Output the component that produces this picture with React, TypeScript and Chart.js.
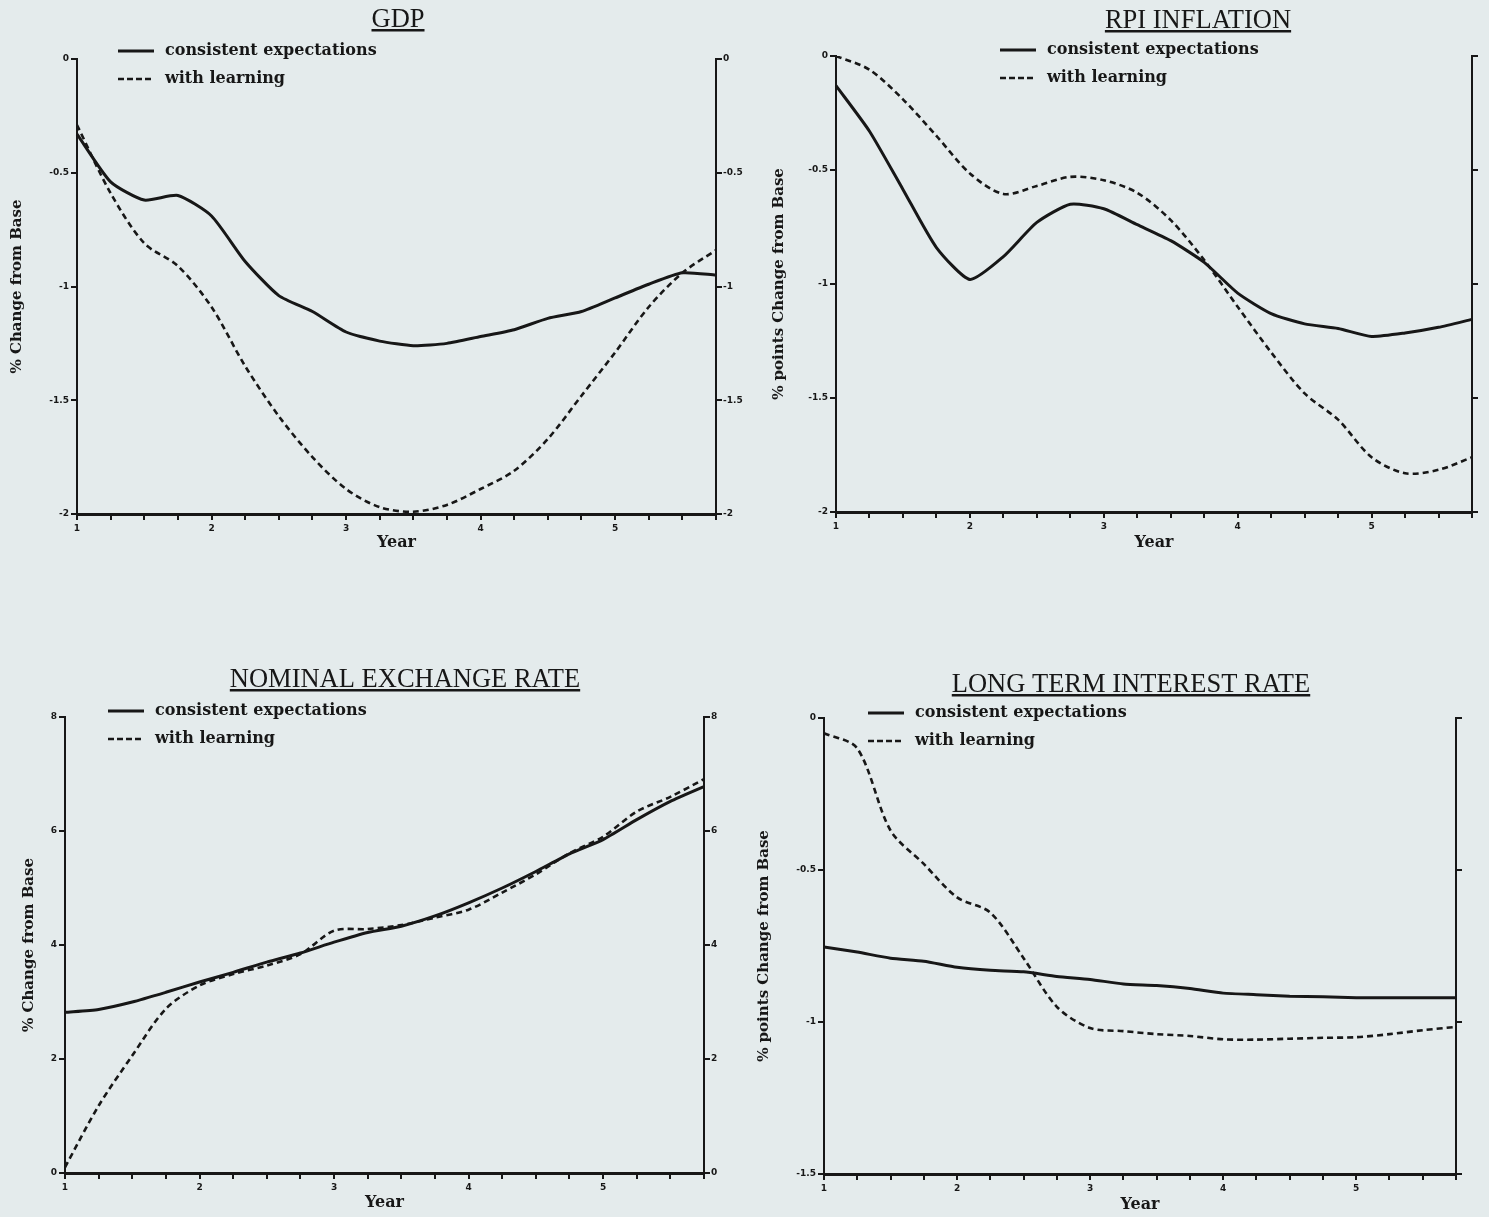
import React, { useEffect, useRef } from 'react';
import { Chart, registerables } from 'chart.js';

Chart.register(...registerables);

// ---------- data ----------
const QUARTERS = ['1', '1.25', '1.5', '1.75', '2', '2.25', '2.5', '2.75', '3', '3.25', '3.5', '3.75', '4', '4.25', '4.5', '4.75', '5', '5.25', '5.5', '5.75'];
const SERIES_LABELS = ['consistent expectations', 'with learning'];

const GDP_CONSISTENT = [-0.33, -0.54, -0.62, -0.6, -0.69, -0.89, -1.04, -1.11, -1.2, -1.24, -1.26, -1.25, -1.22, -1.19, -1.14, -1.11, -1.05, -0.99, -0.94, -0.95];
const GDP_LEARNING = [-0.29, -0.59, -0.81, -0.91, -1.09, -1.35, -1.57, -1.75, -1.89, -1.97, -1.99, -1.96, -1.89, -1.81, -1.67, -1.48, -1.29, -1.09, -0.94, -0.84];

const RPI_CONSISTENT = [-0.13, -0.33, -0.585, -0.84, -0.98, -0.88, -0.73, -0.65, -0.67, -0.74, -0.81, -0.905, -1.04, -1.13, -1.175, -1.195, -1.23, -1.215, -1.19, -1.155];
const RPI_LEARNING = [0.0, -0.06, -0.19, -0.35, -0.515, -0.605, -0.57, -0.53, -0.545, -0.6, -0.72, -0.895, -1.1, -1.3, -1.48, -1.595, -1.76, -1.83, -1.815, -1.76];

const EXR_CONSISTENT = [2.82, 2.87, 3.0, 3.17, 3.35, 3.52, 3.7, 3.86, 4.05, 4.22, 4.33, 4.51, 4.74, 5.0, 5.29, 5.6, 5.85, 6.2, 6.52, 6.78];
const EXR_LEARNING = [0.1, 1.18, 2.06, 2.88, 3.29, 3.49, 3.64, 3.84, 4.25, 4.28, 4.35, 4.48, 4.62, 4.92, 5.24, 5.61, 5.9, 6.34, 6.6, 6.91];

const LTR_CONSISTENT = [-0.753, -0.77, -0.79, -0.8, -0.82, -0.83, -0.835, -0.85, -0.86, -0.875, -0.88, -0.89, -0.905, -0.91, -0.915, -0.917, -0.92, -0.92, -0.92, -0.92];
const LTR_LEARNING = [-0.05, -0.1, -0.37, -0.48, -0.59, -0.64, -0.79, -0.95, -1.02, -1.03, -1.04, -1.046, -1.057, -1.058, -1.055, -1.052, -1.05, -1.04, -1.027, -1.016];

// ---------- style ----------
const INK = '#171717';
const BG = '#e4ebec';
const LABEL_FAMILY = "'DejaVu Serif', serif";
const TICK_FAMILY = "'DejaVu Sans', sans-serif";
const TITLE_FAMILY = "'Liberation Serif', 'Times New Roman', serif";

type Rect = { x: number; y: number; w: number; h: number };
type Panel = {
  id: string;
  title: string;
  yTitle: string;
  yMin: number;
  yMax: number;
  yStep: number;
  rightLabels: boolean;
  consistent: number[];
  learning: number[];
  canvas: Rect;
  area: { l: number; t: number; r: number; b: number };
  titleX: number;
  titleBase: number;
  legendX: number;
  legendY: number;
  yTitleX: number;
  yearY: number;
};

const PANELS: Panel[] = [
  {
    id: 'gdp', title: 'GDP', yTitle: '% Change from Base', yMin: -2, yMax: 0, yStep: 0.5, rightLabels: true,
    consistent: GDP_CONSISTENT, learning: GDP_LEARNING,
    canvas: { x: 0, y: 0, w: 745, h: 560 }, area: { l: 77, t: 59, r: 716, b: 514 },
    titleX: 398, titleBase: 27, legendX: 118, legendY: 51, yTitleX: 17, yearY: 543,
  },
  {
    id: 'rpi', title: 'RPI INFLATION', yTitle: '% points Change from Base', yMin: -2, yMax: 0, yStep: 0.5, rightLabels: false,
    consistent: RPI_CONSISTENT, learning: RPI_LEARNING,
    canvas: { x: 745, y: 0, w: 744, h: 560 }, area: { l: 836, t: 56, r: 1472, b: 512 },
    titleX: 1198, titleBase: 28, legendX: 1000, legendY: 50, yTitleX: 779, yearY: 543,
  },
  {
    id: 'exr', title: 'NOMINAL EXCHANGE RATE', yTitle: '% Change from Base', yMin: 0, yMax: 8, yStep: 2, rightLabels: true,
    consistent: EXR_CONSISTENT, learning: EXR_LEARNING,
    canvas: { x: 0, y: 600, w: 745, h: 617 }, area: { l: 65, t: 717, r: 704, b: 1173 },
    titleX: 405, titleBase: 687, legendX: 108, legendY: 711, yTitleX: 29, yearY: 1203,
  },
  {
    id: 'ltr', title: 'LONG TERM INTEREST RATE', yTitle: '% points Change from Base', yMin: -1.5, yMax: 0, yStep: 0.5, rightLabels: false,
    consistent: LTR_CONSISTENT, learning: LTR_LEARNING,
    canvas: { x: 745, y: 600, w: 744, h: 617 }, area: { l: 824, t: 718, r: 1456, b: 1174 },
    titleX: 1131, titleBase: 692, legendX: 868, legendY: 713, yTitleX: 764, yearY: 1205,
  },
];

// ---------- plugins ----------
const underlinedTitle = {
  id: 'underlinedTitle',
  afterDraw(chart: any, _args: any, opts: any) {
    const ctx = chart.ctx as CanvasRenderingContext2D;
    ctx.save();
    ctx.font = `26.5px ${TITLE_FAMILY}`;
    ctx.fillStyle = INK;
    ctx.textAlign = 'center';
    ctx.textBaseline = 'alphabetic';
    ctx.fillText(opts.text, opts.x, opts.y);
    const w = ctx.measureText(opts.text).width;
    ctx.fillRect(opts.x - w / 2, opts.y + 2, w, 2.5);
    ctx.restore();
  },
};

const innerLegend = {
  id: 'innerLegend',
  afterDraw(chart: any, _args: any, opts: any) {
    const ctx = chart.ctx as CanvasRenderingContext2D;
    ctx.save();
    chart.data.datasets.forEach((ds: any, i: number) => {
      const y = opts.y + i * 28;
      ctx.beginPath();
      ctx.strokeStyle = INK;
      ctx.lineWidth = i === 0 ? 3 : 2.5;
      ctx.setLineDash(i === 0 ? [] : [6, 3]);
      ctx.moveTo(opts.x, y);
      ctx.lineTo(opts.x + 36, y);
      ctx.stroke();
      ctx.setLineDash([]);
      ctx.fillStyle = INK;
      ctx.font = `bold 16px ${LABEL_FAMILY}`;
      ctx.textAlign = 'left';
      ctx.textBaseline = 'middle';
      ctx.fillText(ds.label, opts.x + 47, y);
    });
    ctx.restore();
  },
};

function buildConfig(p: Panel): any {
  const leftW = p.area.l - p.canvas.x;
  const rightW = p.canvas.x + p.canvas.w - p.area.r;
  const bottomH = p.canvas.y + p.canvas.h - p.area.b;
  const axisFont = { family: LABEL_FAMILY, size: 15, weight: 'bold' as const, lineHeight: 1.2 };
  const yearFont = { family: LABEL_FAMILY, size: 16, weight: 'bold' as const, lineHeight: 1.2 };
  const tickFont = { family: TICK_FAMILY, size: 9, weight: 'bold' as const };
  const grid = { display: true, drawOnChartArea: false, drawTicks: true, tickLength: 6, color: INK, lineWidth: 2 };
  const fmt = (v: any) => String(Math.round(Number(v) * 100) / 100);
  return {
    type: 'line',
    data: {
      labels: QUARTERS,
      datasets: [
        { label: SERIES_LABELS[0], data: p.consistent, borderColor: INK, borderWidth: 3, pointRadius: 0, tension: 0.2, fill: false },
        { label: SERIES_LABELS[1], data: p.learning, borderColor: INK, borderWidth: 2.6, borderDash: [6, 4], pointRadius: 0, tension: 0.3, fill: false },
      ],
    },
    options: {
      responsive: false,
      animation: false,
      events: [],
      layout: { padding: { top: p.area.t - p.canvas.y, left: 0, right: 0, bottom: 0 } },
      plugins: {
        legend: { display: false },
        tooltip: { enabled: false },
        title: { display: false },
        underlinedTitle: { text: p.title, x: p.titleX - p.canvas.x, y: p.titleBase - p.canvas.y },
        innerLegend: { x: p.legendX - p.canvas.x, y: p.legendY - p.canvas.y },
      },
      scales: {
        x: {
          type: 'category',
          offset: false,
          grid: { ...grid, offset: false },
          border: { display: true, color: INK, width: 3 },
          ticks: {
            autoSkip: false,
            maxRotation: 0,
            padding: 3,
            color: INK,
            font: tickFont,
            callback: (_v: any, i: number) => (Number.isInteger(Number(QUARTERS[i])) ? QUARTERS[i] : ''),
          },
          title: {
            display: true,
            text: 'Year',
            color: INK,
            font: yearFont,
            padding: { top: 0, bottom: p.canvas.y + p.canvas.h - p.yearY - 9.6 },
          },
          afterFit: (s: any) => { s.height = bottomH; },
        },
        y: {
          type: 'linear',
          position: 'left',
          min: p.yMin,
          max: p.yMax,
          grid,
          border: { display: true, color: INK, width: 2 },
          ticks: { stepSize: p.yStep, padding: 2, color: INK, font: tickFont, callback: fmt },
          title: {
            display: true,
            text: p.yTitle,
            color: INK,
            font: axisFont,
            padding: { top: p.yTitleX - p.canvas.x - 9, bottom: 0 },
          },
          afterFit: (s: any) => { s.width = leftW; },
        },
        y2: {
          type: 'linear',
          position: 'right',
          min: p.yMin,
          max: p.yMax,
          grid,
          border: { display: true, color: INK, width: 2 },
          ticks: { stepSize: p.yStep, padding: 1, color: INK, font: tickFont, display: p.rightLabels, callback: fmt },
          afterFit: (s: any) => { s.width = rightW; },
        },
      },
    },
    plugins: [underlinedTitle, innerLegend],
  };
}

function PanelChart({ panel }: { panel: Panel }) {
  const ref = useRef<HTMLCanvasElement>(null);
  useEffect(() => {
    if (!ref.current) return;
    const chart = new Chart(ref.current, buildConfig(panel));
    return () => chart.destroy();
  }, [panel]);
  const c = panel.canvas;
  return (
    <canvas
      ref={ref}
      width={c.w}
      height={c.h}
      style={{ position: 'absolute', left: c.x, top: c.y, width: c.w, height: c.h }}
    />
  );
}

export default function App() {
  return (
    <div style={{ position: 'absolute', left: 0, top: 0, width: 1489, height: 1217, background: BG, overflow: 'hidden' }}>
      {PANELS.map((p) => (
        <PanelChart key={p.id} panel={p} />
      ))}
    </div>
  );
}
